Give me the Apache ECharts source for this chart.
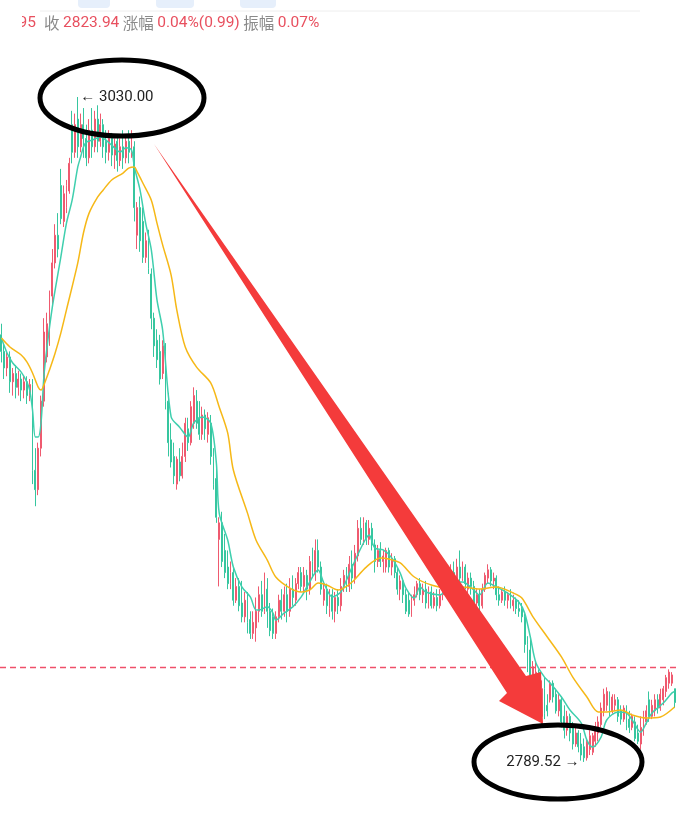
<!DOCTYPE html>
<html>
<head>
<meta charset="utf-8">
<script src="https://cdn.jsdelivr.net/npm/echarts@6/dist/echarts.min.js"></script>
<style>
  html, body { margin: 0; padding: 0; background: #fff; }
  #chart { width: 676px; height: 832px; }
</style>
</head>
<body>
<div id="chart"></div>
<script>
// K线 [开, 收, 低, 高]
var candles = [
  [2944,2938,2934,2948],[2938,2932,2928,2941],[2932,2936,2929,2938],[2936,2927,2923,2938],[2927,2930,2922,2932],
  [2930,2925,2921,2933],[2925,2928,2922,2931],[2928,2924,2920,2930],[2924,2927,2921,2929],[2927,2922,2919,2929],
  [2922,2926,2920,2928],[2926,2895,2890,2928],[2895,2888,2882,2903],[2888,2903,2886,2905],[2903,2920,2900,2922],
  [2920,2945,2918,2950],[2936,2948,2934,2952],[2946,2958,2940,2960],[2958,2970,2955,2975],[2970,2980,2968,2984],
  [2980,2975,2972,2988],[2998,2986,2984,3004],[2985,2995,2983,2998],[2990,2998,2988,3000],[2996,3006,2995,3008],
  [3020,3010,3006,3025],[3010,3020,3008,3024],[3022,3012,3008,3030],[3012,3020,3010,3024],[3020,3015,3008,3026],
  [3015,3008,3005,3020],[3008,3018,3006,3022],[3018,3012,3008,3026],[3012,3022,3010,3025],[3022,3014,3010,3027],
  [3014,3020,3012,3024],[3020,3012,3008,3022],[3014,3010,3006,3018],[3010,3015,3007,3018],[3015,3009,3005,3017],
  [3009,3013,3004,3015],[3014,3007,3003,3016],[3007,3012,3005,3015],[3012,3008,3004,3018],[3008,3014,3006,3016],
  [3014,3010,3006,3018],[3010,3016,3008,3018],[3012,2990,2985,3014],[2980,2990,2975,2992],[2990,2978,2974,2994],
  [2985,2972,2970,2990],[2972,2978,2970,2981],[2978,2968,2966,2982],[2966,2950,2946,2968],[2950,2940,2936,2952],
  [2942,2935,2932,2946],[2938,2928,2926,2944],[2930,2940,2928,2942],[2938,2920,2917,2941],[2920,2905,2900,2923],
  [2906,2898,2896,2912],[2900,2893,2890,2905],[2890,2899,2888,2900],[2898,2893,2891,2903],[2893,2900,2892,2905],
  [2900,2912,2898,2914],[2910,2905,2902,2914],[2905,2918,2904,2920],[2912,2922,2910,2925],[2920,2912,2910,2924],
  [2914,2908,2906,2920],[2908,2915,2906,2918],[2915,2910,2906,2917],[2908,2914,2905,2916],[2912,2900,2897,2915],
  [2900,2890,2888,2903],[2892,2878,2876,2897],[2870,2876,2853,2878],[2876,2862,2860,2880],[2866,2858,2856,2872],
  [2860,2854,2852,2866],[2854,2858,2852,2862],[2858,2848,2846,2860],[2848,2853,2847,2856],[2853,2846,2844,2856],
  [2847,2842,2840,2855],[2842,2848,2840,2851],[2848,2840,2836,2851],[2841,2836,2834,2844],[2836,2840,2834,2844],
  [2838,2844,2833,2849],[2844,2850,2840,2853],[2850,2844,2842,2855],[2844,2852,2843,2858],[2852,2844,2838,2856],
  [2844,2837,2835,2847],[2842,2836,2834,2845],[2836,2842,2834,2844],[2842,2848,2840,2850],[2848,2844,2841,2852],
  [2844,2850,2842,2853],[2850,2844,2840,2854],[2844,2852,2842,2856],[2852,2849,2846,2857],[2848,2854,2846,2856],
  [2854,2858,2852,2860],[2858,2853,2851,2860],[2853,2857,2851,2860],[2857,2852,2848,2859],[2852,2862,2850,2864],
  [2862,2858,2856,2867],[2858,2866,2855,2870],[2866,2860,2858,2870],[2860,2852,2850,2862],[2848,2852,2846,2855],
  [2852,2846,2843,2854],[2845,2850,2842,2852],[2850,2844,2841,2852],[2844,2849,2840,2851],[2849,2846,2843,2852],
  [2846,2853,2844,2856],[2853,2857,2851,2859],[2857,2853,2851,2860],[2853,2861,2851,2864],[2861,2856,2852,2866],
  [2856,2865,2854,2868],[2864,2874,2862,2877],[2874,2870,2868,2878],[2870,2876,2868,2878],[2876,2870,2868,2877],
  [2870,2874,2868,2877],[2874,2868,2866,2876],[2868,2862,2858,2870],[2862,2866,2860,2868],[2866,2862,2860,2869],
  [2862,2864,2858,2866],[2860,2866,2858,2867],[2866,2860,2858,2867],[2860,2863,2857,2865],[2863,2858,2856,2864],
  [2858,2852,2850,2860],[2852,2855,2848,2857],[2855,2850,2847,2856],[2850,2844,2843,2852],[2848,2843,2842,2851],
  [2843,2848,2842,2850],[2848,2850,2846,2853],[2850,2854,2849,2855],[2854,2850,2848,2856],[2850,2852,2847,2854],
  [2852,2847,2845,2855],[2847,2851,2845,2853],[2851,2846,2845,2853],[2846,2849,2845,2851],[2849,2846,2844,2852],
  [2846,2850,2845,2852],[2850,2852,2848,2855],[2852,2856,2851,2858],[2856,2853,2850,2859],[2853,2858,2852,2861],
  [2858,2855,2852,2862],[2855,2860,2853,2863],[2860,2856,2854,2866],[2856,2860,2855,2862],[2860,2854,2852,2861],
  [2852,2856,2850,2858],[2856,2853,2850,2858],[2853,2847,2845,2855],[2847,2850,2846,2852],[2850,2846,2844,2852],
  [2846,2852,2845,2854],[2852,2857,2851,2858],[2856,2859,2854,2861],[2859,2855,2853,2860],[2855,2856,2852,2858],
  [2856,2850,2848,2857],[2850,2848,2846,2853],[2848,2851,2847,2852],[2851,2848,2846,2853],[2848,2850,2845,2851],
  [2850,2846,2845,2852],[2846,2848,2844,2850],[2848,2845,2843,2849],[2845,2844,2842,2848],[2845,2842,2840,2847],
  [2842,2832,2829,2843],[2832,2825,2822,2835],[2830,2820,2818,2834],[2818,2824,2816,2826],[2816,2822,2815,2826],
  [2822,2812,2810,2823],[2806,2816,2803,2819],[2816,2807,2805,2820],[2810,2808,2806,2814],[2812,2818,2811,2819],
  [2818,2813,2811,2819],[2814,2808,2807,2816],[2808,2812,2806,2814],[2812,2804,2802,2813],[2806,2801,2798,2810],
  [2801,2806,2799,2808],[2806,2800,2797,2807],[2802,2796,2794,2804],[2796,2800,2795,2802],[2800,2795,2793,2801],
  [2796,2792,2790,2800],[2795,2791,2789.52,2798],[2791,2797,2790,2798],[2794,2799,2792,2801],[2793,2799,2792,2800],
  [2797,2802,2795,2804],[2800,2804,2797,2806],[2803,2809,2802,2811],[2808,2814,2806,2816],[2810,2815,2808,2816.5],
  [2814,2808,2806,2815],[2808,2813,2807,2814],[2810,2812,2808,2814],[2812,2806,2804,2813],[2808,2805,2803,2810],
  [2805,2809,2804,2810],[2809,2803,2801,2810],[2805,2802,2800,2808],[2802,2806,2801,2807],[2804,2798,2797,2806],
  [2800,2797,2796,2803],[2796,2802,2794,2806],[2800,2806,2799,2808],[2804,2808,2803,2810],[2812,2806,2804,2815],
  [2806,2810,2805,2812],[2808,2812,2806,2814],[2812,2809,2807,2814],[2809,2814,2808,2816],[2812,2816,2810,2817],
  [2815,2820,2813,2821],[2818,2822,2816,2823],[2818,2821,2817,2822],[2816,2811,2809,2816]
];

// 短均线 [K线序号, 值]
var maShort = [
  [0,2942.8],[2,2937.4],[4,2933.8],[7,2930.5],[9,2926.9],[10,2924],[11,2916.8],[12,2907],[13,2907],
  [14,2912.1],[15,2928.7],[16,2938.5],[18,2954],[21,2972.1],[23,2984.4],[25,2992.7],[27,3004.7],
  [28,3008.3],[29,3011.9],[30,3013.7],[32,3014.4],[35,3015.5],[37,3014.4],[39,3012.6],[42,3010.1],
  [44,3011.6],[46,3010.8],[47,3004.7],[49,2996.4],[51,2984.4],[53,2974.7],[55,2956.6],[57,2945.7],
  [60,2914.3],[63,2910.6],[66,2907],[68,2912.1],[71,2914.3],[74,2912.1],[76,2897.6],[77,2879.5],
  [80,2869.8],[82,2860],[85,2852.8],[88,2849.2],[90,2844.5],[91,2844.5],[94,2845.6],[96,2843.4],
  [97,2840.8],[100,2843.4],[103,2845.6],[106,2849.2],[108,2852.8],[112,2858.9],[114,2854.2],
  [117,2849.2],[120,2851],[122,2855.3],[124,2860],[128,2868.7],[130,2871.6],[132,2866.9],[135,2866.2],
  [138,2863.3],[141,2857.8],[143,2852.4],[146,2848.8],[148,2852.8],[150,2851],[155,2849.9],[160,2854.6],
  [163,2854.6],[167,2851.7],[169,2849.9],[172,2854.2],[175,2852.8],[179,2850.6],[183,2847.3],[185,2843.4],
  [187,2834.7],[189,2825.3],[192,2820.2],[194,2818.1],[198,2813],[201,2808.3],[205,2803.6],[207,2797.4],
  [209,2794.9],[212,2798.5],[214,2804.7],[218,2807.6],[221,2807.2],[223,2804.7],[226,2800.3],[228,2803.6],
  [230,2807.2],[234,2810.8],[237,2814.4],[238,2815]
];

// 长均线
var maLong = [
  [0,2942.8],[3,2939.6],[7,2936.7],[9,2934.2],[11,2930.2],[13,2925.1],[14,2924],[15,2925.8],[17,2931.3],
  [19,2937.4],[21,2944.6],[23,2953],[27,2970],[29,2980.8],[31,2988],[34,2993.8],[36,2996.4],[39,3000],
  [43,3002.5],[45,3004.3],[47,3004.7],[48,3002.9],[50,2998.9],[53,2992.7],[55,2984.4],[57,2976.5],
  [60,2965.6],[62,2953],[65,2939.6],[69,2932.3],[74,2926.6],[77,2917.9],[80,2908.5],[82,2895.1],
  [87,2879.5],[90,2869.8],[94,2862.5],[97,2856.4],[102,2852.4],[106,2851],[109,2851.7],[112,2854.2],
  [115,2853.5],[119,2851.7],[121,2852.4],[124,2854.6],[129,2860],[134,2863.3],[137,2862.9],[141,2861.5],
  [146,2856.4],[152,2853.5],[158,2852.4],[163,2852.8],[169,2852.1],[175,2852.8],[181,2850.6],[184,2848.8],
  [188,2841.9],[193,2834.7],[198,2827.5],[202,2820.2],[207,2813],[211,2807.6],[214,2807.6],[219,2808.3],
  [223,2806.5],[228,2805.4],[233,2805.8],[238,2809.4]
];

var lastClose = 2823.94;
var highIdx = 27, highVal = 3030.00;
var lowIdx = 206, lowVal = 2789.52;
var categories = candles.map(function (c, i) { return i; });

var chart = echarts.init(document.getElementById("chart"));

chart.setOption({
  animation: false,
  backgroundColor: "#fff",
  grid: { left: 0, right: 0, top: 0, bottom: 0 },
  xAxis: {
    type: "category",
    data: categories,
    boundaryGap: true,
    axisLine: { show: false },
    axisTick: { show: false },
    axisLabel: { show: false },
    splitLine: { show: false }
  },
  yAxis: {
    type: "value",
    min: 2764.18,
    max: 3065.08,
    axisLine: { show: false },
    axisTick: { show: false },
    axisLabel: { show: false },
    splitLine: { show: false }
  },
  series: [
    {
      type: "candlestick",
      data: candles,
      barWidth: 1.4,
      itemStyle: {
        color: "#ef5a6f",
        color0: "#36c69f",
        borderColor: "#ef5a6f",
        borderColor0: "#36c69f",
        borderWidth: 1
      },
      markLine: {
        silent: true,
        symbol: ["none", "none"],
        label: { show: false },
        lineStyle: { color: "#f0506a", type: [6, 4], width: 1.3, opacity: 1 },
        data: [{ yAxis: lastClose }]
      },
      markPoint: {
        symbol: "circle",
        symbolSize: 1,
        itemStyle: { color: "rgba(0,0,0,0)" },
        data: [
          {
            coord: [highIdx, highVal],
            label: {
              show: true, position: "right", distance: 2,
              formatter: "← " + highVal.toFixed(2),
              color: "#222", fontSize: 15, fontFamily: "Roboto, 'Noto Sans'"
            }
          },
          {
            coord: [lowIdx, lowVal],
            label: {
              show: true, position: "left", distance: 4,
              formatter: lowVal.toFixed(2) + " →",
              color: "#222", fontSize: 15, fontFamily: "Roboto, 'Noto Sans'"
            }
          }
        ]
      }
    },
    {
      type: "line",
      data: maShort,
      smooth: 0.3,
      showSymbol: false,
      lineStyle: { color: "#3fcfae", width: 1.5 },
      z: 3
    },
    {
      type: "line",
      data: maLong,
      smooth: 0.3,
      showSymbol: false,
      lineStyle: { color: "#f6b817", width: 1.5 },
      z: 3
    }
  ],
  graphic: [
    // 顶部工具栏残影
    { type: "rect", shape: { x: 78, y: -6, width: 32, height: 14, r: 4 }, style: { fill: "#e6effb" } },
    { type: "rect", shape: { x: 156, y: -6, width: 38, height: 14, r: 4 }, style: { fill: "#e6effb" } },
    { type: "rect", shape: { x: 240, y: -6, width: 36, height: 14, r: 4 }, style: { fill: "#e6effb" } },
    { type: "line", shape: { x1: 40, y1: 11, x2: 640, y2: 11 }, style: { stroke: "#eeeeee", lineWidth: 1 } },
    {
      type: "text", x: 36, y: 23,
      style: { text: "2823.95", fill: "#e8505f", font: "15.5px Roboto, 'Noto Sans'", align: "right", verticalAlign: "middle" }
    },
    { type: "rect", shape: { x: 0, y: 12, width: 22, height: 22 }, style: { fill: "#fff" } },
    {
      type: "text", x: 44, y: 23,
      style: {
        text: "{g|收} {r|2823.94} {g|涨幅} {r|0.04%(0.99)} {g|振幅} {r|0.07%}",
        font: "15.5px 'Noto Sans CJK SC'",
        verticalAlign: "middle",
        rich: {
          g: { fill: "#8a8a8a", font: "15.5px 'Noto Sans CJK SC'" },
          r: { fill: "#e8505f", font: "15.5px Roboto, 'Noto Sans'" }
        }
      }
    },
    // 红色箭头
    {
      type: "polygon", z: 10,
      shape: { points: [[154, 144], [526, 676], [541, 672], [543, 724], [499, 701], [507, 693]] },
      style: { fill: "#f43b3b" }
    },
    // 圈注
    {
      type: "ellipse", z: 11,
      shape: { cx: 122, cy: 98, rx: 82, ry: 38 },
      style: { fill: "none", stroke: "#000", lineWidth: 5 }
    },
    {
      type: "ellipse", z: 11,
      shape: { cx: 558, cy: 762, rx: 84, ry: 37 },
      style: { fill: "none", stroke: "#000", lineWidth: 5 }
    }
  ]
});
</script>
</body>
</html>
